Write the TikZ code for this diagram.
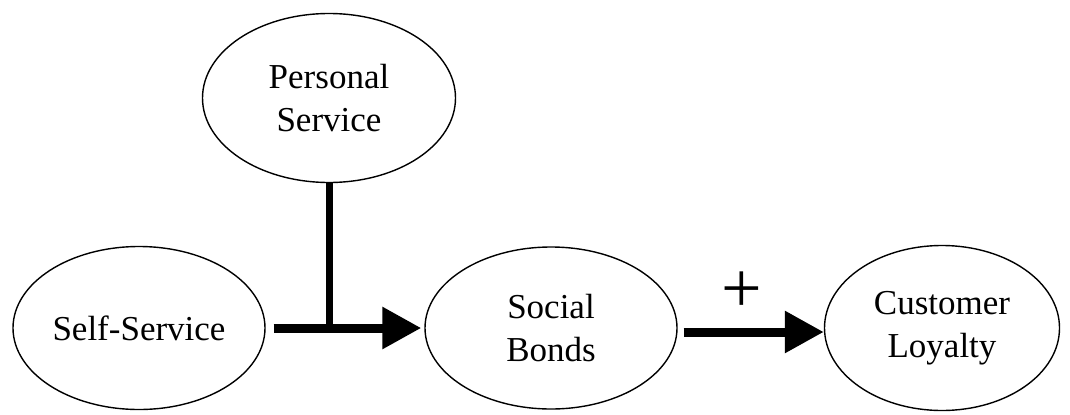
\documentclass[tikz,border=0pt]{standalone}
\usepackage{fontspec}
\setmainfont{Liberation Serif}
\usetikzlibrary{shapes.geometric, arrows.meta, positioning}

\tikzset{
	factor/.style={ellipse, draw=black, line width=0.7pt, align=center, inner sep=0pt,
		font=\fontsize{17.5}{21.5}\selectfont},
	path/.style={line width=4.5pt, -{Triangle[length=19.5pt, width=20pt]}},
}

\begin{document}
\begin{tikzpicture}[x=1pt, y=1pt]
		\useasboundingbox (0,0) rectangle (535,207); % 图幅
		
		\node[factor, minimum width=126.5pt, minimum height=84.5pt] (personal) at (164.5,158) {Personal\\Service};
		\node[factor, minimum width=126pt, minimum height=81.5pt] (self) at (69.5,43) {Self-Service};
		\node[factor, minimum width=126pt, minimum height=81pt] (social) at (275.5,43) {Social\\Bonds};
		\node[factor, minimum width=117.5pt, minimum height=82.5pt] (loyalty) at (471,43) {Customer\\Loyalty};
		
		\coordinate (join) at (personal.south |- self.east); % 交汇点
		\draw[path] ([xshift=4pt]self.east) -- ([xshift=-1.5pt]social.west);
		\draw[line width=3.5pt] (personal.south) -- ([yshift=-2.25pt]join);
		
		\draw[path] ([xshift=3pt,yshift=-2pt]social.east) -- ([yshift=-2pt]loyalty.west);
		\node[font=\fontsize{36}{36}\selectfont, inner sep=0pt] (plus) at (371,61) {+};
	\end{tikzpicture}
\end{document}
